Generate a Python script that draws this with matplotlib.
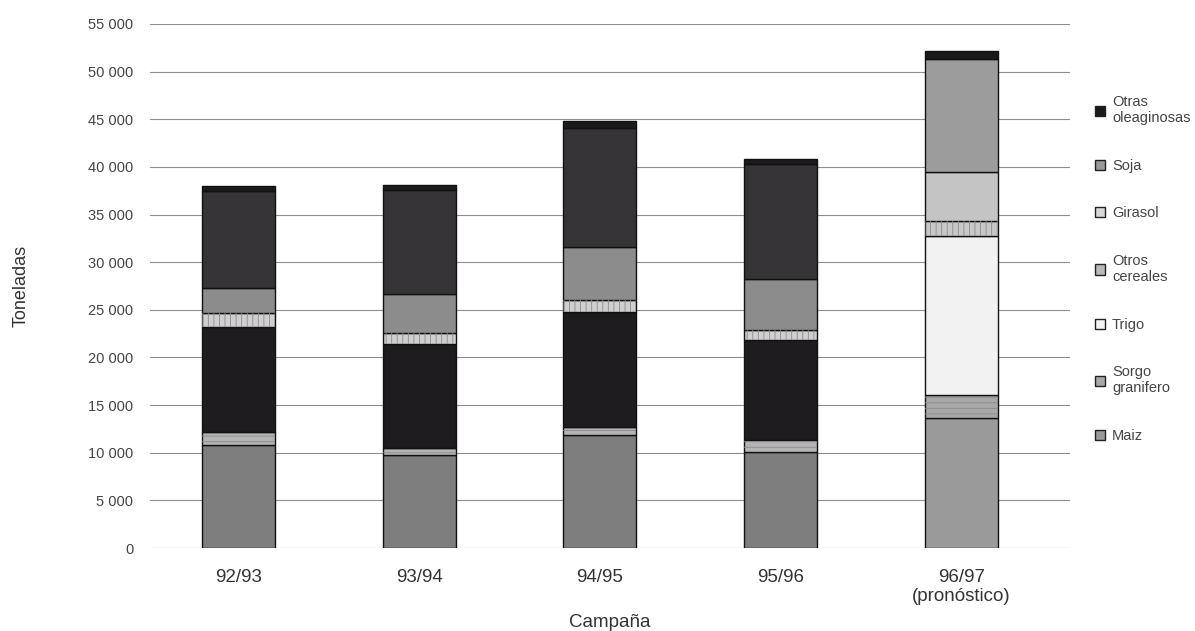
import numpy as np
import matplotlib.pyplot as plt
from matplotlib.patches import Patch

plt.rcParams['font.family'] = ['Liberation Sans', 'DejaVu Sans']
plt.rcParams['hatch.linewidth'] = 0.6

campanas = ["92/93", "93/94", "94/95", "95/96", "96/97\n(pronóstico)"]

# miles de toneladas (de abajo hacia arriba)
maiz = [10800, 9800, 11900, 10100, 13600]
sorgo = [1400, 700, 800, 1200, 2500]
trigo = [11000, 10900, 12100, 10500, 16600]
otros_cereales = [1500, 1200, 1200, 1100, 1650]
girasol = [2600, 4100, 5600, 5350, 5100]
soja = [10200, 10900, 12500, 12100, 11900]
otras_oleag = [500, 500, 700, 500, 800]

series = [maiz, sorgo, trigo, otros_cereales, girasol, soja, otras_oleag]
nombres = ["Maiz", "Sorgo\ngranifero", "Trigo", "Otros\ncereales",
           "Girasol", "Soja", "Otras\noleaginosas"]

# colores por barra (la ultima se imprimio mas clara)
colores = [
    ["#7e7e7e"] * 4 + ["#9a9a9a"],
    ["#b4b4b4"] * 4 + ["#a8a8a8"],
    ["#1e1c1f"] * 4 + ["#f2f2f2"],
    ["#cfcfcf"] * 4 + ["#c8c8c8"],
    ["#8c8c8c"] * 4 + ["#c4c4c4"],
    ["#363436"] * 4 + ["#9c9c9c"],
    ["#1a1a1a"] * 5,
]
hatches = ["", "---", "", "|||", "", "", ""]
legend_colors = ["#9a9a9a", "#a8a8a8", "#f4f4f4", "#b8b8b8", "#d8d8d8", "#9a9a9a", "#1a1a1a"]

x = np.arange(len(campanas))
fig = plt.figure(figsize=(11.95, 6.31), dpi=100)
ax = fig.add_axes([0.1255, 0.1315, 0.7695, 0.8305])

bottom = np.zeros(len(x))
for vals, cols, h in zip(series, colores, hatches):
    vals = np.array(vals)
    ax.bar(x, vals, 0.405, bottom=bottom, color=cols, edgecolor="#111111",
           linewidth=1.0, zorder=3)
    if h:
        ax.bar(x, vals, 0.405, bottom=bottom, fill=False, hatch=h,
               edgecolor="#8c8c8c", linewidth=0, zorder=4)
    bottom += vals

ax.set_ylim(0, 55000)
ax.set_xlim(-0.49, 4.6)
ax.set_yticks(np.arange(0, 55001, 5000))
ax.set_yticklabels([f"{v:,}".replace(",", " ") for v in range(0, 55001, 5000)])
ax.set_xticks(x)
ax.set_xticklabels(campanas)
ax.grid(axis="y", color="#8f8f8f", linewidth=0.8, zorder=0)
for s in ["top", "right", "left", "bottom"]:
    ax.spines[s].set_visible(False)
ax.tick_params(axis="y", length=0, labelsize=10.5, labelcolor="#444444", pad=12)
ax.tick_params(axis="x", length=0, labelsize=13.5, labelcolor="#333333", pad=15)
ax.set_xlabel("Campaña", size=13.5, color="#333333", labelpad=6)
ax.set_ylabel("Toneladas", size=13, color="#333333", labelpad=42)

handles = [Patch(facecolor=c, edgecolor="#222222", linewidth=1.0) for c in legend_colors]
fig.legend(handles[::-1], nombres[::-1], loc="upper left",
           bbox_to_anchor=(0.905, 0.87), frameon=False, fontsize=10.5,
           labelspacing=2.3, handlelength=0.7, handleheight=0.7,
           handletextpad=0.5, labelcolor="#444444")

plt.savefig("out.png", dpi=100)
plt.close(fig)
